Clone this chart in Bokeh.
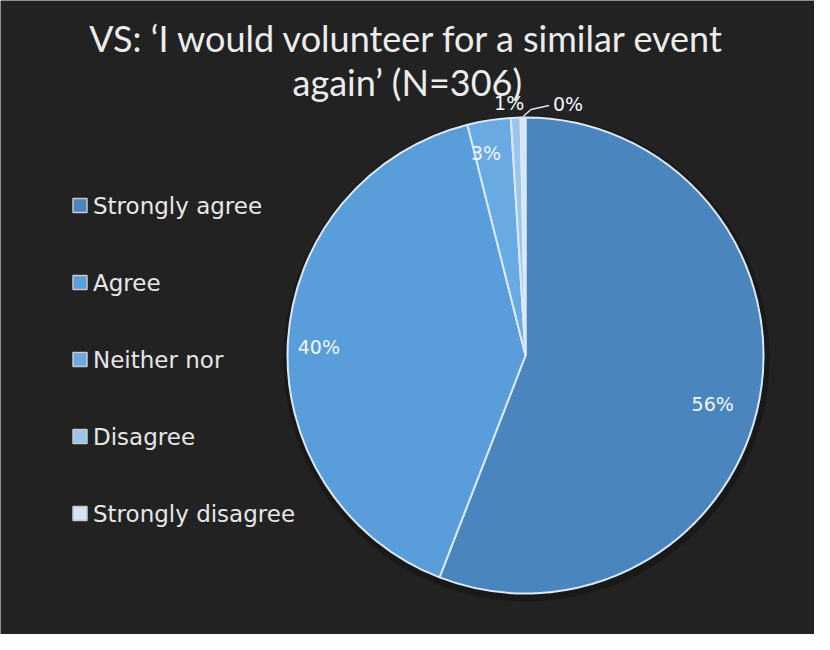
import math
from bokeh.plotting import figure
from bokeh.models import Range1d, ColumnDataSource
from bokeh.core.properties import value
from bokeh.embed import file_html
from bokeh.resources import INLINE

# ---- data ----
title_lines = ["VS: \u2018I would volunteer for a similar event", "again\u2019 (N=306)"]
categories = ["Strongly agree", "Agree", "Neither nor", "Disagree", "Strongly disagree"]
counts = [171, 123, 9, 2, 1]
pct_labels = ["56%", "40%", "3%", "1%", "0%"]
colors = ["#4a85bd", "#5a9ddb", "#6aaae2", "#9cc5ec", "#d3e5f6"]

# ---- layout ----
W, H = 814, 634
BG = "#222222"
TFONT = "Lato"
LFONT = "DejaVu Sans"
cx, cy, R = 525, 279, 238
label_r = [0.80, 0.87, 0.86, 1.06, 1.06]
label_dx = [0, 0, -8, -6, 0]
label_dy = [-14, -4, 0, 0, 0]

total = float(sum(counts))
fr = [c / total for c in counts]
cum = [0.0]
for f in fr:
    cum.append(cum[-1] + f)

starts = [math.pi / 2 - 2 * math.pi * cum[i + 1] for i in range(len(counts))]
ends = [math.pi / 2 - 2 * math.pi * cum[i] for i in range(len(counts))]
mids = [(s + e) / 2 for s, e in zip(starts, ends)]

p = figure(width=W, height=H, output_backend="svg", toolbar_location=None,
           x_range=Range1d(0, W), y_range=Range1d(0, H),
           x_axis_type=None, y_axis_type=None, min_border=0,
           background_fill_color=BG, border_fill_color=BG, outline_line_color=None)
p.grid.visible = False

# soft shadow
p.circle(x=[cx + 1], y=[cy - 3], radius=R + 5, fill_color="#141414", fill_alpha=0.6, line_color=None)

src = ColumnDataSource(dict(cat=categories, start=starts, end=ends, color=colors))
p.wedge(x=cx, y=cy, radius=R, start_angle="start", end_angle="end", source=src,
        fill_color="color", line_color="#dbe9f6", line_width=2)

# percentage labels
lx, ly = [], []
for i, m in enumerate(mids):
    lx.append(cx + label_r[i] * R * math.cos(m) + label_dx[i])
    ly.append(cy + label_r[i] * R * math.sin(m) + label_dy[i])
# 0% label to the right with leader line
m0 = mids[4]
rim_x, rim_y = cx + R * 1.0 * math.cos(m0), cy + R * 1.0 * math.sin(m0)
lx[4] = rim_x + 45
ly[4] = rim_y + 14
p.line(x=[rim_x, rim_x + 8, rim_x + 26], y=[rim_y + 1, rim_y + 8, rim_y + 12],
       line_color="#dbe9f6", line_width=1.5)
p.text(x=lx, y=ly, text=pct_labels, text_color="#f2f6fa", text_font=value(LFONT),
       text_font_size="19px", text_align="center", text_baseline="middle")

# title
p.text(x=[407, 407], y=[H - 37, H - 81], text=title_lines, text_color="#ececec",
       text_font=value(TFONT), text_font_size="36px", text_align="center",
       text_baseline="middle")

# legend
lg_x, lg_y0, lg_step = 79.5, H - 205, 77
ys = [lg_y0 - i * lg_step for i in range(len(categories))]
p.rect(x=[lg_x] * len(categories), y=ys, width=14, height=14, fill_color=colors,
       line_color="#c8c8c8", line_width=1.5)
p.text(x=[lg_x + 13] * len(categories), y=ys, text=categories, text_color="#e6e6e6",
       text_font=value(LFONT), text_font_size="23px", text_align="left",
       text_baseline="middle")

open("out.html", "w").write(file_html(p, INLINE))
